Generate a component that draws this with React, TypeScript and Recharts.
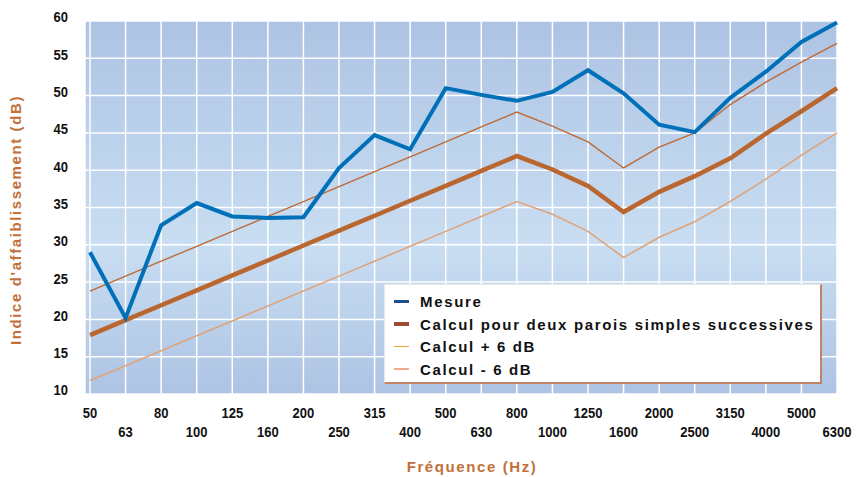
import React from 'react';
import { LineChart, Line, XAxis, YAxis, CartesianGrid } from 'recharts';

const freqs = ['50', '63', '80', '100', '125', '160', '200', '250', '315', '400', '500', '630', '800', '1000', '1250', '1600', '2000', '2500', '3150', '4000', '5000', '6300'];
const mesure = [29.0, 20.2, 32.6, 35.6, 33.8, 33.6, 33.7, 40.3, 44.7, 42.8, 51.0, 50.1, 49.3, 50.5, 53.4, 50.3, 46.1, 45.1, 49.7, 53.2, 57.2, 59.8];
const calcul = [17.9, 19.9, 21.9, 23.9, 25.9, 27.9, 29.9, 31.9, 33.9, 35.9, 37.9, 39.9, 41.9, 40.1, 37.9, 34.4, 37.1, 39.2, 41.6, 44.9, 47.9, 51.0];
const calculPlus6 = [23.8, 25.8, 27.8, 29.8, 31.8, 33.8, 35.8, 37.8, 39.8, 41.8, 43.8, 45.8, 47.8, 45.9, 43.8, 40.3, 43.1, 45.0, 48.8, 51.8, 54.5, 57.0];
const calculMinus6 = [11.8, 13.8, 15.8, 17.8, 19.8, 21.8, 23.8, 25.8, 27.8, 29.8, 31.8, 33.8, 35.8, 34.1, 31.8, 28.3, 31.0, 33.1, 35.8, 38.8, 42.0, 45.0];
const yTicks = [10, 15, 20, 25, 30, 35, 40, 45, 50, 55, 60];

const legendItems = [
  { label: 'Mesure', color: '#1d4f8f', width: 3 },
  { label: 'Calcul pour deux parois simples successives', color: '#9e4b36', width: 4 },
  { label: 'Calcul + 6 dB', color: '#f0a040', width: 1.5 },
  { label: 'Calcul - 6 dB', color: '#f4a98a', width: 2 },
];

const data = freqs.map((f, i) => ({
  f,
  mesure: mesure[i],
  calcul: calcul[i],
  plus6: calculPlus6[i],
  minus6: calculMinus6[i],
}));

const textFont = "'Liberation Sans', Arial, sans-serif";
const titleColor = '#c2703a';

const XTick = (props: any) => {
  const { x, y, payload, index } = props;
  const dy = index % 2 === 0 ? 19 : 38;
  return (
    <text
      transform={`translate(${x},${y + dy}) scale(0.84,1)`}
      x={0}
      y={0}
      textAnchor="middle"
      dominantBaseline="central"
      fontFamily={textFont}
      fontWeight="bold"
      fontSize={15.5}
      fill="#111"
    >
      {payload.value}
    </text>
  );
};

const YTick = (props: any) => {
  const { y, payload } = props;
  return (
    <text
      transform={`translate(68,${y - 4}) scale(0.84,1)`}
      x={0}
      y={0}
      textAnchor="end"
      dominantBaseline="central"
      fontFamily={textFont}
      fontWeight="bold"
      fontSize={15.5}
      fill="#111"
    >
      {payload.value}
    </text>
  );
};

const LegendBox = () => (
  <div
    style={{
      position: 'absolute',
      left: 384,
      top: 284,
      width: 438,
      height: 100,
      background: '#fff',
      borderTop: '1px solid #e8e8e8',
      borderLeft: '1px solid #e8e8e8',
      borderRight: '2px solid #c08466',
      borderBottom: '2px solid #c08466',
      boxSizing: 'border-box',
      paddingTop: 5,
    }}
  >
    {legendItems.map((it) => (
      <div key={it.label} style={{ display: 'flex', alignItems: 'center', height: 22.7 }}>
        <div style={{ width: 15, height: it.width, background: it.color, marginLeft: 9, marginRight: 11, flexShrink: 0 }} />
        <span style={{ fontFamily: textFont, fontWeight: 'bold', fontSize: 15, letterSpacing: 1.65, color: '#111', whiteSpace: 'nowrap' }}>{it.label}</span>
      </div>
    ))}
  </div>
);

export default function App() {
  return (
    <div style={{ position: 'absolute', left: 0, top: 0, width: 857, height: 477, background: '#fff' }}>
      <LineChart width={857} height={477} data={data} margin={{ top: 21, right: 19, bottom: 0, left: 0 }}>
        <defs>
          <linearGradient id="bgGrad" x1="0" y1="0" x2="0" y2="1">
            <stop offset="0%" stopColor="#adc3e3" />
            <stop offset="60%" stopColor="#c9def2" />
            <stop offset="100%" stopColor="#adc3e3" />
          </linearGradient>
        </defs>
        <CartesianGrid fill="url(#bgGrad)" stroke="#ffffff" strokeWidth={1.5} />
        <XAxis
          dataKey="f"
          type="category"
          interval={0}
          padding={{ left: 5, right: 1 }}
          axisLine={false}
          tickLine={false}
          tickSize={0}
          tickMargin={0}
          height={83}
          tick={<XTick />}
        />
        <YAxis
          type="number"
          domain={[10, 60]}
          ticks={yTicks}
          width={85}
          axisLine={false}
          tickLine={false}
          tickSize={0}
          tick={<YTick />}
        />
        <Line type="linear" dataKey="minus6" stroke="#dea47c" strokeWidth={1.6} dot={false} isAnimationActive={false} />
        <Line type="linear" dataKey="plus6" stroke="#bd6a36" strokeWidth={1.4} dot={false} isAnimationActive={false} />
        <Line type="linear" dataKey="calcul" stroke="#b9662f" strokeWidth={4.5} dot={false} isAnimationActive={false} />
        <Line type="linear" dataKey="mesure" stroke="#0070b8" strokeWidth={4} dot={false} isAnimationActive={false} />
      </LineChart>
      <LegendBox />
      <div
        style={{
          position: 'absolute',
          left: 472,
          top: 466,
          transform: 'translate(-50%, -50%)',
          whiteSpace: 'nowrap',
          fontFamily: textFont,
          fontWeight: 'bold',
          fontSize: 15,
          letterSpacing: 1.6,
          color: titleColor,
        }}
      >
        Fréquence (Hz)
      </div>
      <div
        style={{
          position: 'absolute',
          left: 15,
          top: 220,
          transform: 'translate(-50%, -50%) rotate(-90deg)',
          whiteSpace: 'nowrap',
          fontFamily: textFont,
          fontWeight: 'bold',
          fontSize: 15,
          letterSpacing: 1.6,
          color: titleColor,
        }}
      >
        Indice d'affaiblissement (dB)
      </div>
    </div>
  );
}
